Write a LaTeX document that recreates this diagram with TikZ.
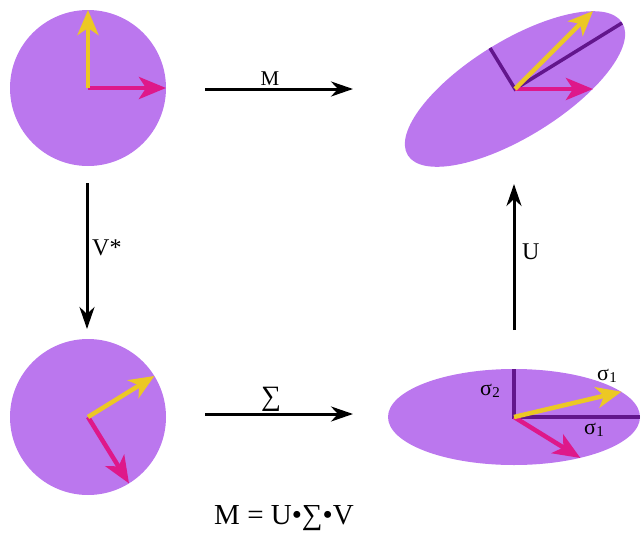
\documentclass[tikz,border=0pt]{standalone}
\usepackage{fontspec}
\setmainfont{Liberation Serif}
\usetikzlibrary{arrows.meta,shapes.geometric}
\definecolor{blobfill}{RGB}{187,119,238}
\definecolor{vecyellow}{RGB}{236,200,36}
\definecolor{vecpink}{RGB}{222,24,138}
\definecolor{axispurple}{RGB}{98,22,140}
\newcommand{\sigmalab}[1]{σ\kern0.01em\raisebox{-0.08em}{\fontsize{15}{15}\selectfont #1}}
\tikzset{
  blob/.style={fill=blobfill, draw=none},
  mapArrow/.style={line width=3pt, black, -{Stealth[length=22pt,width=15pt,inset=7pt]}},
  yvec/.style={line width=4.5pt, vecyellow, -{Stealth[length=25pt,width=21pt,inset=7pt]}},
  pvec/.style={line width=4.5pt, vecpink, -{Stealth[length=27pt,width=22pt,inset=7pt]}},
  axisline/.style={line width=3.5pt, axispurple},
  lab/.style={inner sep=0pt, font=\fontsize{24}{26}\selectfont},
  siglab/.style={inner sep=0pt, font=\fontsize{22}{24}\selectfont},
}
\begin{document}
\begin{tikzpicture}[x=1pt,y=-1pt]
\useasboundingbox (0,0) rectangle (641,536);
% shapes
\node[blob, circle, minimum size=156pt, inner sep=0pt] (c1) at (88,88) {};
\node[blob, ellipse, minimum width=252pt, minimum height=96pt, inner sep=0pt, rotate=31.7] (e1) at (515,89) {};
\node[blob, circle, minimum size=156pt, inner sep=0pt] (c2) at (88,417) {};
\node[blob, ellipse, minimum width=252pt, minimum height=96pt, inner sep=0pt] (e2) at (514,417) {};
% top-left vectors
\coordinate (c1y) at (88,10);
\coordinate (c1p) at (166,88);
\draw[pvec] (c1.center) -- (c1p);
\draw[yvec] (c1.center) -- (c1y);
% top-right
\coordinate (e1maj) at (622,23);
\coordinate (e1min) at (490,48);
\coordinate (e1y) at (593,11);
\coordinate (e1p) at (593,89);
\draw[axisline] (e1maj) -- (e1.center) -- (e1min);
\draw[pvec] (e1.center) -- (e1p);
\draw[yvec] (e1.center) -- (e1y);
% bottom-left
\coordinate (c2y) at (154.4,376);
\coordinate (c2p) at (129,483.4);
\draw[pvec] (c2.center) -- (c2p);
\draw[yvec] (c2.center) -- (c2y);
% bottom-right
\coordinate (e2up) at (514,369);
\coordinate (e2rt) at (640,417);
\coordinate (e2y) at (621.5,391.7);
\coordinate (e2p) at (580.4,458);
\draw[axisline] (e2up) -- (e2.center) -- (e2rt);
\draw[pvec] (e2.center) -- (e2p);
\draw[yvec] (e2.center) -- (e2y);
\node[siglab] (s2) at (490,391) {\sigmalab{2}};
\node[siglab] (s1a) at (607,376) {\sigmalab{1}};
\node[siglab] (s1b) at (594,430) {\sigmalab{1}};
% map arrows
\coordinate (mA) at (205,89);
\coordinate (mB) at (353,89);
\draw[mapArrow] (mA) -- (mB);
\node[lab, font=\fontsize{21}{22}\selectfont] (mlab) at (270,79) {M};
\coordinate (sA) at (205,414);
\coordinate (sB) at (353,414);
\draw[mapArrow] (sA) -- (sB);
\node[lab, font=\fontsize{28}{30}\selectfont] (slab) at (271,399) {∑};
\coordinate (vA) at (87,183);
\coordinate (vB) at (87,329);
\draw[mapArrow] (vA) -- (vB);
\node[lab, anchor=west] (vlab) at (92,248) {V*};
\coordinate (uA) at (514,330);
\coordinate (uB) at (514,184);
\draw[mapArrow] (uA) -- (uB);
\node[lab, anchor=west] (ulab) at (522,252) {U};
% formula
\node[inner sep=0pt, font=\fontsize{29}{32}\selectfont] (formula) at (284,518) {M = U•∑•V};
\end{tikzpicture}
\end{document}
